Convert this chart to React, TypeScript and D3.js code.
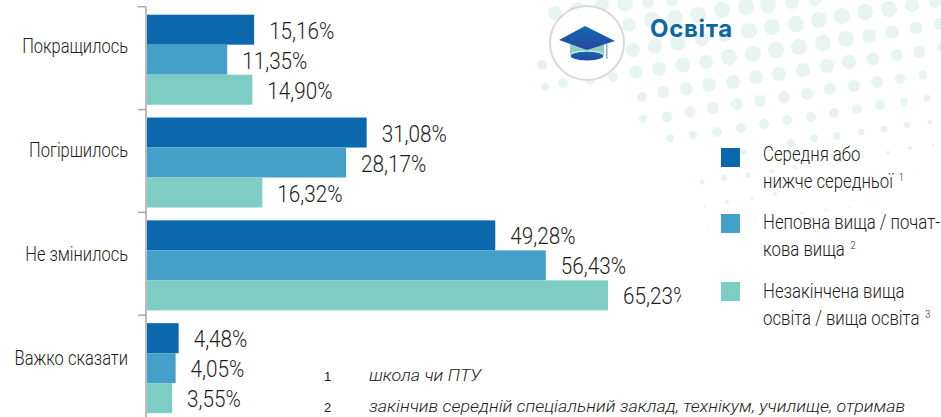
import React, { useEffect, useRef } from 'react';
import * as d3 from 'd3';

const categories = ['Покращилось', 'Погіршилось', 'Не змінилось', 'Важко сказати'];
const seriesKeys = ['low', 'mid', 'high'];
const lowValues = [15.16, 31.08, 49.28, 4.48];
const midValues = [11.35, 28.17, 56.43, 4.05];
const highValues = [14.9, 16.32, 65.23, 3.55];
const colors = ['#0b68ad', '#44a0c9', '#7dcdc4'];
const legendLines = [
  ['Середня або', 'нижче середньої', '1'],
  ['Неповна вища / почат-', 'кова вища', '2'],
  ['Незакінчена вища', 'освіта / вища освіта', '3']
];
const notes = [
  ['1', 'школа чи ПТУ'],
  ['2', 'закінчив середній спеціальний заклад, технікум, училище, отримав']
];

// background speckle, x / y / r
const speckle = [
  [555, 13, 7], [578, 10, 8], [602, 5, 7], [625, 3, 8], [648, 2, 6], [672, 0, 6], [722, 10, 8], [746, 7, 8],
  [768, 5, 8], [792, 2, 7], [815, 0, 6], [912, 5, 7], [935, 2, 6], [652, 20, 8], [675, 18, 8], [698, 15, 8],
  [819, 20, 8], [796, 24, 8], [772, 27, 8], [749, 31, 8], [725, 35, 7], [842, 16, 8], [865, 12, 8], [889, 9, 8],
  [605, 28, 7], [629, 25, 7], [633, 50, 7], [636, 72, 6.5], [542, 65, 5], [563, 83, 5], [590, 80, 5], [613, 77, 5], [545, 87, 4],
  [655, 46, 7.5], [678, 43, 7.5], [702, 39, 7], [729, 57, 8], [753, 54, 8], [776, 50, 8], [799, 47, 8], [823, 43, 8],
  [846, 39, 8], [869, 36, 7], [892, 32, 7], [916, 28, 6.5], [940, 24, 6], [659, 69, 7], [683, 65, 7.5], [706, 62, 7],
  [733, 82, 7], [756, 77, 7], [779, 74, 7], [803, 70, 7], [827, 66, 7], [849, 62, 7], [873, 59, 6.5], [897, 55, 6],
  [919, 52, 6], [942, 47, 5], [663, 92, 6], [686, 89, 6.5], [709, 85, 7], [737, 104, 6], [760, 101, 6], [784, 97, 6],
  [807, 94, 6], [830, 89, 6], [854, 86, 6], [877, 82, 6], [900, 79, 5], [923, 75, 4.5], [667, 117, 5.5], [690, 112, 5.5],
  [713, 108, 6], [642, 97, 5], [643, 119, 4], [717, 132, 5], [741, 128, 5], [764, 124, 5], [787, 120, 5], [811, 117, 5],
  [834, 113, 5], [857, 109, 5], [880, 105, 5], [904, 102, 4], [927, 98, 3.5], [693, 135, 4], [670, 138, 4], [814, 138, 4],
  [837, 136, 4], [861, 132, 3.5], [884, 129, 3.5], [907, 125, 3], [930, 122, 2.5], [743, 152, 3], [791, 143, 4],
  [748, 175, 3], [724, 178, 3], [702, 182, 2.5], [772, 171, 2.5], [795, 167, 2.5], [727, 202, 2], [752, 198, 2],
  [775, 194, 2], [798, 190, 2], [822, 187, 1.5], [845, 183, 1.5], [868, 180, 1.5], [705, 206, 1.5], [708, 229, 1],
  [826, 210, 1.5], [849, 207, 1], [872, 202, 1], [802, 213, 1.5], [778, 217, 1.5], [755, 221, 1], [910, 148, 2],
  [888, 153, 2], [933, 145, 1.5], [863, 157, 1.5], [915, 172, 1], [892, 175, 1]
];

const font = 'Roboto, sans-serif';
const ink = '#1d1d1b';

export default function App() {
  const ref = useRef<SVGSVGElement>(null);

  useEffect(() => {
    const svg = d3.select(ref.current);
    svg.selectAll('*').remove();

    // Roboto is wider than the original face, so squeeze it sideways
    const put = (parent: any, px: number, py: number, txt: string, size: number, sx: number, anchor = 'start') =>
      parent
        .append('text')
        .attr('transform', `translate(${px},${py}) scale(${sx},1)`)
        .attr('text-anchor', anchor)
        .attr('font-family', font)
        .attr('font-weight', 300)
        .attr('font-size', size)
        .attr('fill', ink)
        .text(txt);

    const defs = svg.append('defs');
    defs
      .append('clipPath')
      .attr('id', 'plot-clip')
      .append('rect')
      .attr('width', 681)
      .attr('height', 417);
    const capGrad = defs
      .append('linearGradient')
      .attr('id', 'cap-grad')
      .attr('x1', 0)
      .attr('x2', 0)
      .attr('y1', 0)
      .attr('y2', 1);
    capGrad.append('stop').attr('offset', 0).attr('stop-color', '#0d6cb0');
    capGrad.append('stop').attr('offset', 1).attr('stop-color', '#2a45a0');

    const x = d3.scaleLinear().domain([0, 65.23]).range([147, 608]);
    const y = d3.scaleBand().domain(categories).range([6.7, 418]);
    const labelY = d3.scalePoint().domain(categories).range([46, 358]);
    const inner = d3.scaleBand().domain(seriesKeys).range([0, 90]);
    const series = [lowValues, midValues, highValues];

    svg
      .append('g')
      .attr('fill', '#e7f4f1')
      .selectAll('circle')
      .data(speckle)
      .join('circle')
      .attr('cx', d => d[0])
      .attr('cy', d => d[1])
      .attr('r', d => d[2]);

    // axis line and ticks
    const axis = svg.append('g').attr('stroke', '#a6a6a6').attr('stroke-width', 1.5);
    axis.append('line').attr('x1', 146).attr('x2', 146).attr('y1', 7).attr('y2', 417);
    categories.forEach(c => {
      const t = y(c) as number;
      axis.append('line').attr('x1', 138).attr('x2', 146).attr('y1', t).attr('y2', t);
    });

    const plot = svg.append('g').attr('clip-path', 'url(#plot-clip)');
    categories.forEach((c, i) => {
      const top = (y(c) as number) + 8;
      put(svg, 128, (labelY(c) as number) + 6.5, c, 20, 0.825, 'end');

      series.forEach((vals, s) => {
        const yy = top + (inner(seriesKeys[s]) as number);
        plot
          .append('rect')
          .attr('x', x(0))
          .attr('y', yy)
          .attr('width', x(vals[i]) - x(0))
          .attr('height', inner.bandwidth())
          .attr('fill', colors[s]);
        put(plot, x(vals[i]) + 15, yy + 24, vals[i].toFixed(2).replace('.', ',') + '%', 23, 0.9);
      });
    });

    // legend
    const legendTop = [148, 214, 282];
    const legendBase = [161, 229, 298];
    legendLines.forEach((l, i) => {
      svg
        .append('rect')
        .attr('x', 721)
        .attr('y', legendTop[i])
        .attr('width', 19)
        .attr('height', 19)
        .attr('fill', colors[i]);
      put(svg, 763, legendBase[i], l[0], 20, 0.84);
      const second = put(svg, 763, legendBase[i] + 27, l[1], 20, 0.84);
      second.append('tspan').attr('dx', 7).attr('dy', -7).attr('font-size', 11).text(l[2]);
    });

    // footnotes
    notes.forEach((n, i) => {
      const ny = 381 + i * 31;
      svg
        .append('text')
        .attr('x', 324)
        .attr('y', ny)
        .attr('font-family', 'Liberation Sans, sans-serif')
        .attr('font-size', 13)
        .attr('fill', ink)
        .text(n[0]);
      put(svg, 369, ny, n[1], 17, 1.05).attr('font-style', 'italic');
    });

    // badge
    const badge = svg.append('g');
    badge
      .append('circle')
      .attr('cx', 587)
      .attr('cy', 43)
      .attr('r', 37)
      .attr('fill', '#fff')
      .attr('fill-opacity', 0.92)
      .attr('stroke', '#d9d9d9')
      .attr('stroke-width', 2);
    badge
      .append('path')
      .attr('d', 'M570 44 V56 H604 V44 Z')
      .attr('fill', '#8fd0bf');
    badge.append('path').attr('d', 'M559 40 L585 26 L615 41 L587 50 Z').attr('fill', 'url(#cap-grad)');
    badge
      .append('ellipse')
      .attr('cx', 587)
      .attr('cy', 56)
      .attr('rx', 17)
      .attr('ry', 5)
      .attr('fill', 'url(#cap-grad)')
      .attr('stroke', '#fff')
      .attr('stroke-width', 1);
    badge.append('rect').attr('x', 606).attr('y', 44).attr('width', 1.5).attr('height', 15).attr('fill', '#7fb5d8');

    svg
      .append('text')
      .attr('x', 650)
      .attr('y', 37)
      .attr('font-family', 'Inter, "Noto Sans", sans-serif')
      .attr('font-weight', 700)
      .attr('font-size', 24)
      .attr('letter-spacing', 0.7)
      .attr('fill', '#0b68a5')
      .text('Освіта');
  }, []);

  return (
    <svg
      ref={ref}
      width={941}
      height={417}
      style={{ position: 'fixed', left: 0, top: 0, background: '#fff' }}
    />
  );
}
